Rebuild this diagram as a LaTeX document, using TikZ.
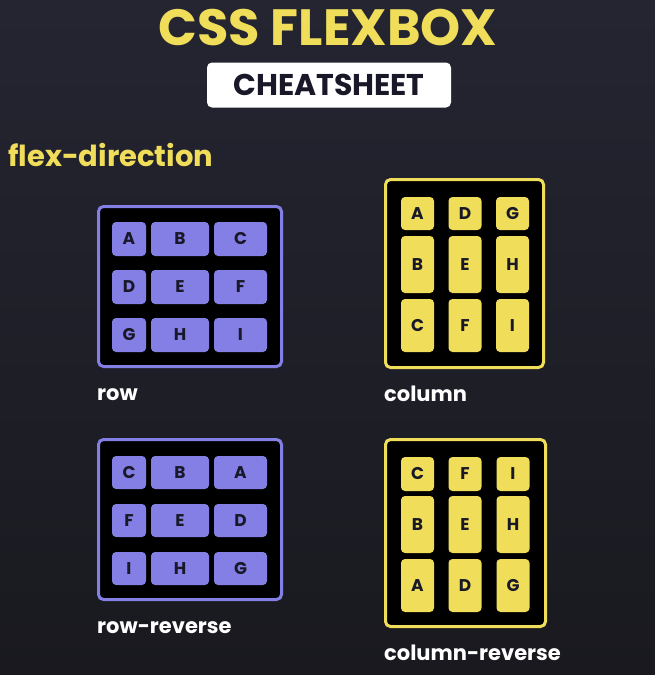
\documentclass[tikz,border=0pt]{standalone}
\usepackage{fontspec}
\setmainfont{Poppins}
\usetikzlibrary{positioning}
\definecolor{bgtop}{RGB}{37,37,50}
\definecolor{bgbot}{RGB}{25,25,31}
\definecolor{flexyellow}{RGB}{240,221,90}
\definecolor{flexpurple}{RGB}{132,127,228}
\definecolor{inkdark}{RGB}{24,24,40}

\begin{document}
\begin{tikzpicture}[x=1pt, y=-1pt,
  pbox/.style={draw=flexpurple, line width=3pt, fill=black, rounded corners=5pt, inner sep=0pt},
  ybox/.style={pbox, draw=flexyellow},
  pitem/.style={fill=flexpurple, rounded corners=4pt, text=inkdark, inner sep=0pt,
    font=\bfseries\fontsize{17}{17}\selectfont},
  yitem/.style={pitem, fill=flexyellow},
  caption/.style={text=white, anchor=base west, inner sep=0pt,
    font=\bfseries\fontsize{21}{21}\selectfont}]
  % background
  \shade[top color=bgtop, bottom color=bgbot] (0,0) rectangle (655,675);
  \useasboundingbox (0,0) rectangle (655,675);

  % heading
  \node[text=flexyellow, font=\bfseries\fontsize{51}{51}\selectfont] (title) at (328,28) {CSS FLEXBOX};
  \node[fill=white, rounded corners=5pt, minimum width=244, minimum height=45, inner sep=0pt,
    text=inkdark, font=\bfseries\fontsize{30}{30}\selectfont] (sheet) at (329,85) {CHEATSHEET};
  \node[text=flexyellow, anchor=base west, inner sep=0pt,
    font=\bfseries\fontsize{29}{29}\selectfont] (flexdir) at (8,166) {flex-direction};

  % row
  \node[pbox, minimum width=183, minimum height=160] (rowbox) at (190,286.5) {};
  \foreach \ltr/\cx/\cy/\w in {A/129/239/34, B/180/239/58, C/240.5/239/53,
      D/129/287/34, E/180/287/58, F/240.5/287/53,
      G/129/335/34, H/180/335/58, I/240.5/335/53}
    \node[pitem, minimum width=\w, minimum height=34] (row-\ltr) at (\cx,\cy) {\ltr};
  \node[caption] (rowlbl) at (97,400) {row};

  % column
  \node[ybox, minimum width=158, minimum height=188] (colbox) at (464.5,273.5) {};
  \foreach \ltr/\cx/\cy/\h in {A/417.5/213.5/33, D/465/213.5/33, G/512.5/213.5/33,
      B/417.5/264.5/57, E/465/264.5/57, H/512.5/264.5/57,
      C/417.5/325.5/53, F/465/325.5/53, I/512.5/325.5/53}
    \node[yitem, minimum width=33, minimum height=\h] (col-\ltr) at (\cx,\cy) {\ltr};
  \node[caption] (collbl) at (384,401) {column};

  % row-reverse
  \node[pbox, minimum width=183, minimum height=160] (rrbox) at (190,519.5) {};
  \foreach \ltr/\cx/\cy/\w in {C/129/472.5/34, B/180/472.5/58, A/240.5/472.5/53,
      F/129/520.5/34, E/180/520.5/58, D/240.5/520.5/53,
      I/129/568.5/34, H/180/568.5/58, G/240.5/568.5/53}
    \node[pitem, minimum width=\w, minimum height=33] (rr-\ltr) at (\cx,\cy) {\ltr};
  \node[caption] (rrlbl) at (97,633) {row-reverse};

  % column-reverse
  \node[ybox, minimum width=160, minimum height=187] (crbox) at (465.5,533) {};
  \foreach \ltr/\cx/\cy/\h in {C/417.5/474/34, F/465/474/34, I/513/474/34,
      B/417.5/524.5/57, E/465/524.5/57, H/513/524.5/57,
      A/417.5/585.5/53, D/465/585.5/53, G/513/585.5/53}
    \node[yitem, minimum width=33, minimum height=\h] (cr-\ltr) at (\cx,\cy) {\ltr};
  \node[caption] (crlbl) at (384,660) {column-reverse};
\end{tikzpicture}
\end{document}
